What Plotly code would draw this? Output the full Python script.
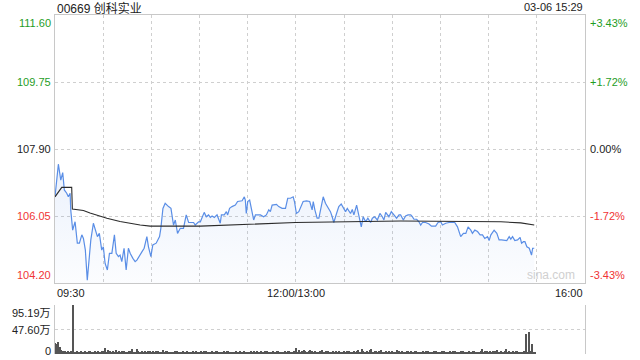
import plotly.graph_objects as go

W, H = 640, 360
# ---- data ----
title_text = "00669 创科实业"
stamp_text = "03-06 15:29"
prev_close = 107.90
price_ticks = [111.60, 109.75, 107.90, 106.05, 104.20]
pct_ticks = ["+3.43%", "+1.72%", "0.00%", "-1.72%", "-3.43%"]
time_labels = ["09:30", "12:00/13:00", "16:00"]
time_label_pos = [0, 150, 330]
vol_ticks = [95.19, 47.60, 0]
vol_tick_text = ["95.19万", "47.60万", "0"]

# minutes after 09:30 (12:00/13:00 = 150, 16:00 = 330)
price_min = [0.0, 2.1, 3.6, 4.8, 5.8, 7.3, 8.3, 9.4, 9.8, 11.0, 12.5, 13.9, 15.2, 16.7, 17.7, 18.9,
             20.1, 21.4, 22.3, 23.9, 25.1, 26.4, 27.6, 29.1, 30.1, 31.2, 32.6, 33.9, 35.4, 37.0, 38.1,
             39.5, 40.5, 41.6, 43.0, 44.3, 45.7, 46.8, 48.5, 49.9, 51.0, 52.6, 54.1, 55.5, 57.2, 58.2,
             59.7, 60.9, 63.0, 65.1, 65.9, 67.2, 68.6, 70.7, 72.2, 73.8, 74.9, 76.3, 78.0, 80.0, 81.7,
             83.2, 86.3, 87.3, 89.4, 90.5, 92.9, 94.2, 95.6, 96.7, 97.8, 99.2, 100.9, 102.9, 103.6,
             105.4, 106.7, 107.5, 108.7, 110.2, 112.3, 113.7, 116.5, 117.9, 118.5, 119.1, 120.0, 121.2,
             122.3, 123.7, 124.8, 127.9, 129.9, 131.6, 133.1, 134.1, 135.2, 137.9, 139.3, 141.4, 143.5,
             144.9, 146.6, 148.3, 149.1, 150.3, 151.8, 153.3, 154.5, 156.6, 158.6, 160.1, 160.8, 161.8,
             163.2, 164.3, 165.3, 167.0, 168.4, 170.5, 171.5, 172.6, 173.6, 175.3, 176.7, 178.2, 179.5,
             180.9, 182.0, 183.0, 184.0, 185.1, 186.1, 187.8, 189.2, 190.7, 191.9, 193.4, 194.8, 196.5,
             197.6, 199.0, 200.7, 202.3, 203.8, 204.8, 205.9, 207.9, 209.4, 211.0, 212.7, 214.2, 215.2,
             216.9, 218.3, 219.8, 221.5, 222.5, 223.5, 225.2, 226.6, 227.7, 228.8, 230.8, 232.9, 234.4,
             237.0, 238.5, 240.2, 241.2, 243.3, 245.3, 247.5, 248.9, 250.6, 252.6, 254.3, 255.8, 257.2,
             258.9, 259.9, 261.4, 263.1, 264.7, 266.2, 267.6, 269.3, 270.3, 271.4, 273.4, 275.1, 276.5,
             278.0, 279.7, 281.3, 282.8, 283.8, 284.9, 286.3, 288.0, 289.6, 290.5, 291.7, 292.6, 293.8,
             295.3, 296.7, 297.4, 298.4]
price_val = [106.58, 107.48, 107.04, 107.25, 106.77, 106.68, 106.58, 106.68, 106.22, 105.66, 105.89,
             105.30, 105.30, 105.53, 105.43, 105.11, 104.28, 105.11, 105.39, 105.85, 105.66, 105.48,
             105.57, 105.11, 105.20, 104.74, 104.56, 105.02, 105.02, 105.53, 105.02, 104.93, 104.97,
             104.79, 105.16, 104.56, 105.16, 105.02, 104.88, 104.79, 104.83, 104.97, 105.06, 105.16,
             105.48, 105.20, 104.93, 105.25, 105.30, 105.48, 105.71, 106.26, 106.40, 106.31, 106.26,
             105.80, 105.94, 105.57, 105.71, 105.71, 106.08, 105.87, 105.87, 105.80, 105.89, 105.89,
             106.15, 106.03, 106.08, 106.01, 106.05, 106.01, 106.08, 105.85, 106.08, 106.08, 106.17,
             106.08, 106.26, 106.31, 106.35, 106.45, 106.47, 106.58, 106.49, 106.12, 106.45, 106.49,
             106.26, 105.94, 106.08, 106.08, 106.03, 106.08, 106.22, 106.17, 106.35, 106.37, 106.31,
             106.26, 106.26, 106.54, 106.54, 106.58, 106.45, 106.12, 106.17, 106.35, 106.45, 106.47,
             106.45, 106.22, 106.45, 106.22, 105.99, 105.99, 106.22, 106.58, 106.40, 106.26, 106.17,
             106.03, 105.87, 106.12, 106.31, 106.38, 106.26, 106.17, 106.26, 106.17, 106.12, 106.23,
             106.08, 106.35, 106.08, 105.75, 106.03, 105.89, 105.99, 105.87, 105.99, 106.03, 105.94,
             106.12, 106.03, 105.94, 106.15, 106.03, 106.17, 106.08, 105.99, 106.08, 106.08, 105.94,
             106.05, 106.08, 106.08, 106.03, 105.96, 105.96, 105.89, 105.80, 105.87, 105.87, 105.83,
             105.77, 105.77, 105.87, 105.89, 105.80, 105.85, 105.87, 105.87, 105.87, 105.75, 105.48,
             105.57, 105.57, 105.75, 105.66, 105.57, 105.66, 105.62, 105.53, 105.53, 105.43, 105.48,
             105.37, 105.53, 105.66, 105.57, 105.39, 105.39, 105.39, 105.37, 105.48, 105.41, 105.48,
             105.37, 105.39, 105.46, 105.30, 105.34, 105.34, 105.20, 105.16, 104.97, 105.16, 105.16]

avg_min = [0.0, 4.2, 10.4, 10.8, 17.7, 21.8, 32.3, 40.5, 53.0, 59.3, 90.5, 118.5, 149.7, 215.2,
           258.9, 277.6, 290.0, 298.4]
avg_val = [106.58, 106.84, 106.84, 106.24, 106.20, 106.13, 105.99, 105.90, 105.80, 105.77, 105.77,
           105.82, 105.87, 105.91, 105.90, 105.89, 105.86, 105.80]

# volume per minute (万股), minutes 0..299
volume = [
    22, 19, 24, 13, 7, 6, 5, 4, 6, 4, 5, 95.19, 4, 3, 5, 4, 6, 4, 3, 5, 4, 6, 5, 3, 4, 5, 4, 6, 3, 5,
    6, 11.6, 4, 8, 5, 3, 6, 4, 7, 3, 5, 4, 6, 5, 3, 4, 5, 6, 9.7, 4, 3, 9.7, 5, 4, 6, 3, 5, 4, 5, 6,
    3, 5, 4, 6, 5, 3, 4, 7, 3, 5, 6, 3, 4, 3, 4, 5, 6, 3, 4, 3, 5, 4, 6, 4, 3, 4, 5, 3, 6, 4,
    3, 5, 4, 5, 6, 3, 4, 3, 5, 4, 6, 5, 3, 4, 3, 5, 4, 5, 6, 3, 4, 3, 4, 5, 3, 6, 4, 3, 5, 3,
    4, 3, 5, 4, 6, 3, 5, 4, 5, 3, 4, 5, 6, 3, 4, 3, 5, 4, 5, 6, 3, 4, 3, 5, 4, 5, 6, 3, 4, 6,
    11.6, 4, 7, 3, 6, 8, 5, 4, 6, 8, 5, 3, 6, 4, 3, 5, 8, 4, 3, 6, 5, 3, 4, 6, 3, 5, 4, 6, 4, 3,
    5, 4, 6, 5, 3, 4, 6, 3, 5, 7, 4, 10, 5, 3, 6, 4, 7, 9, 3, 5, 6, 4, 5, 7, 3, 4, 6, 3, 5, 4,
    6, 4, 3, 7, 5, 3, 6, 4, 3, 5, 6, 3, 5, 4, 5, 6, 3, 4, 3, 5, 4, 6, 5, 3, 4, 3, 5, 6, 3, 4,
    3, 5, 6, 3, 4, 3, 5, 4, 6, 5, 3, 4, 3, 5, 6, 3, 4, 3, 5, 4, 6, 5, 3, 4, 3, 5, 9, 4, 5, 6,
    3, 5, 4, 6, 5, 7, 3, 4, 6, 3, 5, 10, 4, 6, 3, 5, 4, 6, 5, 3, 4, 3, 6, 39, 4, 42, 5, 19, 4, 3,
]
vol_min = list(range(len(volume)))

# ---- styling ----
FONT = "Liberation Sans, Arial, Noto Sans CJK SC, sans-serif"
GREEN = "#1f9d1f"
RED = "#f03434"
DARK = "#222222"
GRID = "#cfcfcf"
FRAME = "#c8c8c8"
LINE = "#5a8ee6"

X0, X1 = 55 / W, 585 / W
P_TOP, P_BOT = 1 - 15 / H, 1 - 283 / H
V_TOP, V_BOT = 1 - 305 / H, 1 - 354 / H

fig = go.Figure()
ymin, ymax = min(price_ticks), max(price_ticks)

# baseline for fill
fig.add_trace(go.Scatter(x=[price_min[0], price_min[-1]], y=[ymin, ymin], mode="lines",
                         line=dict(width=0, color="rgba(0,0,0,0)"), hoverinfo="skip",
                         showlegend=False, xaxis="x", yaxis="y"))
fig.add_trace(go.Scatter(x=price_min, y=price_val, mode="lines", fill="tonexty",
                         fillgradient=dict(type="vertical",
                                           colorscale=[[0, "rgba(90,142,230,0.02)"],
                                                       [1, "rgba(90,142,230,0.12)"]]),
                         line=dict(color=LINE, width=1.2), showlegend=False,
                         xaxis="x", yaxis="y"))
fig.add_trace(go.Scatter(x=avg_min, y=avg_val, mode="lines",
                         line=dict(color="#2b2b2b", width=1.1), showlegend=False,
                         xaxis="x", yaxis="y"))
fig.add_trace(go.Bar(x=vol_min, y=volume, width=0.7, marker=dict(color="#555555", line=dict(width=0)),
                     showlegend=False, xaxis="x2", yaxis="y2"))

grid_x = list(range(30, 330, 30))
fig.update_layout(
    width=W, height=H, margin=dict(l=0, r=0, t=0, b=0),
    paper_bgcolor="white", plot_bgcolor="white",
    font=dict(family=FONT, size=11, color=DARK),
    bargap=0,
    xaxis=dict(domain=[X0, X1], range=[0, 330], tickvals=grid_x, showticklabels=False,
               showgrid=True, gridcolor=GRID, griddash="dot", gridwidth=1,
               showline=True, mirror=True, linecolor=FRAME, linewidth=1, zeroline=False,
               ticks="", fixedrange=True),
    yaxis=dict(domain=[P_BOT, P_TOP], range=[ymin, ymax], tickvals=price_ticks[1:-1],
               showticklabels=False, showgrid=True, gridcolor=GRID, griddash="dot",
               showline=True, mirror=True, linecolor=FRAME, linewidth=1, zeroline=False,
               ticks=""),
    xaxis2=dict(domain=[X0, X1], range=[0, 330], showticklabels=False, showgrid=False,
                showline=False, zeroline=False, anchor="y2", ticks=""),
    yaxis2=dict(domain=[V_BOT, V_TOP], range=[0, max(vol_ticks)], tickvals=vol_ticks,
                showticklabels=False, showgrid=True, gridcolor=GRID, griddash="dot",
                showline=True, mirror=True, linecolor=FRAME, linewidth=1, zeroline=False,
                anchor="x2", ticks=""),
)

ann = []
def label_color(i):
    return GREEN if i < 2 else (DARK if i == 2 else RED)

n = len(price_ticks)
for i, (p, t) in enumerate(zip(price_ticks, pct_ticks)):
    ya = "top" if i == 0 else ("bottom" if i == n - 1 else "middle")
    c = label_color(i)
    ann.append(dict(x=X0, y=p, xref="paper", yref="y", text=f"{p:.2f}", showarrow=False,
                    xanchor="right", yanchor=ya, xshift=-2, font=dict(color=c, size=11)))
    ann.append(dict(x=X1, y=p, xref="paper", yref="y", text=t, showarrow=False,
                    xanchor="left", yanchor=ya, xshift=3, font=dict(color=c, size=11)))

vol_shift = [0, 0, 3]
for i, (v, t) in enumerate(zip(vol_ticks, vol_tick_text)):
    ya = "top" if i == 0 else "middle"
    ann.append(dict(x=X0, y=v, xref="paper", yref="y2", text=t, showarrow=False,
                    xanchor="right", yanchor=ya, xshift=-2, yshift=vol_shift[i],
                    font=dict(color=DARK, size=11)))

xa = ["left", "center", "right"]
for lab, pos, a in zip(time_labels, time_label_pos, xa):
    ann.append(dict(x=pos, y=P_BOT, xref="x", yref="paper", text=lab, showarrow=False,
                    xanchor=a, yanchor="top", yshift=-2, font=dict(color=DARK, size=11)))

ann.append(dict(x=X0, y=1, xref="paper", yref="paper", text=title_text, showarrow=False,
                xanchor="left", yanchor="top", yshift=1, font=dict(color=DARK, size=12)))
ann.append(dict(x=X1, y=1, xref="paper", yref="paper", text=stamp_text, showarrow=False,
                xanchor="right", yanchor="top", yshift=1, font=dict(color=DARK, size=11)))
ann.append(dict(x=X1, y=P_BOT, xref="paper", yref="paper", text="sina.com", showarrow=False,
                xanchor="right", yanchor="bottom", xshift=-8, yshift=-1,
                font=dict(color="#d0d0d0", size=12)))

fig.update_layout(annotations=ann)
fig.write_html("out.html")
